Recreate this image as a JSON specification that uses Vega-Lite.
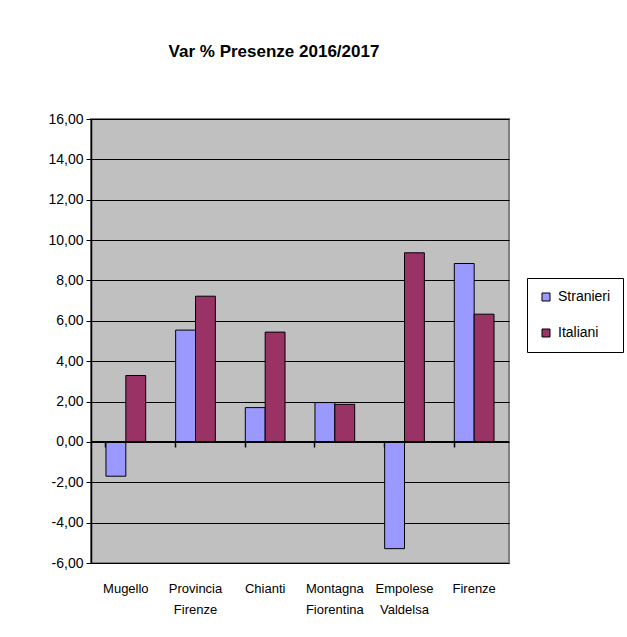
{
  "$schema": "https://vega.github.io/schema/vega-lite/v6.json",
  "autosize": {"type": "none"},
  "padding": {"left": 91, "top": 119, "right": 118, "bottom": 74},
  "width": 418,
  "height": 444,
  "background": "white",
  "title": {
    "text": "Var % Presenze 2016/2017",
    "font": "Liberation Sans, Arial",
    "fontSize": 17,
    "fontWeight": "bold",
    "color": "black",
    "anchor": "middle",
    "frame": "group",
    "dx": -26,
    "offset": 51
  },
  "data": {
    "values": [
      {"Area": "Mugello", "Serie": "Stranieri", "Valore": -1.70},
      {"Area": "Mugello", "Serie": "Italiani", "Valore": 3.29},
      {"Area": "Provincia Firenze", "Serie": "Stranieri", "Valore": 5.54},
      {"Area": "Provincia Firenze", "Serie": "Italiani", "Valore": 7.22},
      {"Area": "Chianti", "Serie": "Stranieri", "Valore": 1.70},
      {"Area": "Chianti", "Serie": "Italiani", "Valore": 5.44},
      {"Area": "Montagna Fiorentina", "Serie": "Stranieri", "Valore": 1.95},
      {"Area": "Montagna Fiorentina", "Serie": "Italiani", "Valore": 1.86},
      {"Area": "Empolese Valdelsa", "Serie": "Stranieri", "Valore": -5.29},
      {"Area": "Empolese Valdelsa", "Serie": "Italiani", "Valore": 9.37},
      {"Area": "Firenze", "Serie": "Stranieri", "Valore": 8.84},
      {"Area": "Firenze", "Serie": "Italiani", "Valore": 6.33}
    ]
  },
  "layer": [
    {
      "mark": {"type": "bar", "stroke": "black", "strokeWidth": 1},
      "encoding": {
        "x": {
          "field": "Area",
          "type": "nominal",
          "sort": null,
          "scale": {"paddingInner": 0.43, "paddingOuter": 0.215},
          "axis": {
            "title": null,
            "labelAngle": 0,
            "labelExpr": "split(datum.label, ' ')",
            "labelFontSize": 13,
            "labelLineHeight": 21,
            "labelPadding": 19,
            "labelColor": "black",
            "ticks": false,
            "domain": false,
            "grid": false
          }
        },
        "xOffset": {
          "field": "Serie",
          "type": "nominal",
          "sort": ["Stranieri", "Italiani"],
          "scale": {"paddingInner": 0, "paddingOuter": 0}
        },
        "y": {
          "field": "Valore",
          "type": "quantitative",
          "scale": {"domain": [-6, 16], "nice": false, "zero": false},
          "axis": {
            "title": null,
            "values": [-6, -4, -2, 0, 2, 4, 6, 8, 10, 12, 14, 16],
            "labelExpr": "replace(replace(format(datum.value, '.2f'), '.', ','), '\u2212', '-')",
            "labelFontSize": 14,
            "labelColor": "black",
            "labelPadding": 3,
            "tickSize": 5,
            "tickColor": "black",
            "domainColor": "black",
            "domainWidth": 1.5,
            "grid": true,
            "gridColor": "black",
            "gridWidth": 1,
            "gridOpacity": 1
          }
        },
        "color": {
          "field": "Serie",
          "type": "nominal",
          "sort": ["Stranieri", "Italiani"],
          "scale": {"domain": ["Stranieri", "Italiani"], "range": ["#9999FF", "#993366"]},
          "legend": {
            "title": null,
            "orient": "none",
            "legendX": 436,
            "legendY": 159,
            "strokeColor": "black",
            "fillColor": "white",
            "padding": 12,
            "rowPadding": 22,
            "symbolType": "square",
            "symbolSize": 64,
            "symbolStrokeColor": "black",
            "symbolStrokeWidth": 1,
            "symbolOpacity": 1,
            "labelFontSize": 14,
            "labelColor": "black",
            "labelOffset": 5
          }
        }
      }
    },
    {
      "mark": {"type": "rule", "color": "black", "strokeWidth": 1.5},
      "encoding": {"y": {"datum": 0}}
    },
    {
      "mark": {"type": "point", "opacity": 0},
      "encoding": {
        "x": {
          "field": "Area",
          "type": "nominal",
          "sort": null,
          "axis": {
            "title": null,
            "orient": "bottom",
            "offset": -121,
            "bandPosition": 0,
            "labels": false,
            "domain": false,
            "ticks": true,
            "tickSize": 5,
            "tickColor": "black",
            "tickWidth": 1.5,
            "grid": false
          }
        },
        "y": {"datum": 0}
      }
    }
  ],
  "resolve": {"axis": {"x": "independent"}},
  "config": {
    "font": "Liberation Sans, Arial",
    "view": {"fill": "#C0C0C0", "stroke": "#808080", "strokeWidth": 2},
    "axis": {"labelFont": "Liberation Sans, Arial"},
    "legend": {"labelFont": "Liberation Sans, Arial"}
  }
}
